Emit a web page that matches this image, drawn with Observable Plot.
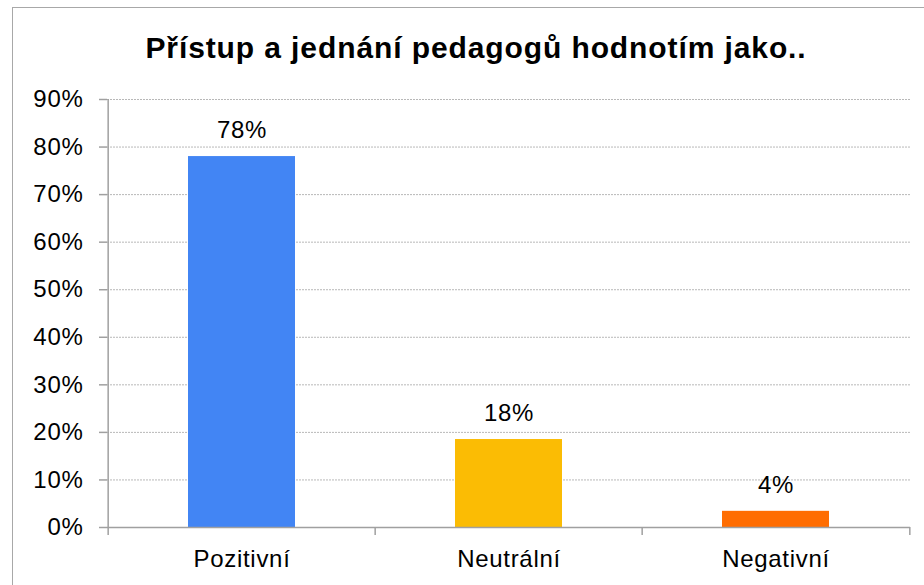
<!DOCTYPE html>
<html>
<head>
<meta charset="utf-8">
<script src="https://cdn.jsdelivr.net/npm/d3@7"></script>
<script src="https://cdn.jsdelivr.net/npm/@observablehq/plot@0.6"></script>
<style>
  html, body { margin: 0; padding: 0; background: #fff; }
  #wrap { position: relative; width: 924px; height: 585px; overflow: hidden; background: #fff; }
  #frame { position: absolute; left: 12px; top: 7px; width: 940px; height: 620px; border: 1.5px solid #a8a8a8; box-sizing: border-box; }
  #title { position: absolute; left: 0; width: 924px; top: 33px; text-align: center; font-family: "Liberation Sans", Arial, sans-serif; font-weight: bold; font-size: 30px; line-height: 29px; letter-spacing: 0.9px; color: #000; padding-left: 28px; box-sizing: border-box; white-space: nowrap; }
  #chart { position: absolute; left: 0; top: 0; }
</style>
</head>
<body>
<div id="wrap">
  <div id="frame"></div>
  <div id="title">Přístup a jednání pedagogů hodnotím jako..</div>
  <div id="chart"></div>
</div>
<script>
const categories = ["Pozitivní", "Neutrální", "Negativní"];
const values = [0.78, 0.185, 0.034];
const valueLabels = ["78%", "18%", "4%"];
const colors = ["#4285F4", "#FBBC04", "#FF6D01"];
const yTicks = [0, 0.1, 0.2, 0.3, 0.4, 0.5, 0.6, 0.7, 0.8, 0.9];

const data = categories.map((c, i) => ({cat: c, value: values[i], label: valueLabels[i]}));

const W = 924, H = 585;
const mL = 107, mR = 14, mT = 99, mB = 58;
const step = (W - mL - mR) / categories.length;
const plotH = H - mT - mB;
const tickLen = 0.9 * 8 / plotH;
const gray = "#a0a0a0";

const chart = Plot.plot({
  width: W,
  height: H,
  marginLeft: mL,
  marginRight: mR,
  marginTop: mT,
  marginBottom: mB,
  style: {fontFamily: "'Liberation Sans', Arial, sans-serif", fontSize: "24px", background: "transparent", color: "#000", overflow: "visible", letterSpacing: "0.7px"},
  x: {domain: categories, paddingInner: 0.6, paddingOuter: 0.3},
  y: {domain: [0, 0.9]},
  color: {domain: categories, range: colors},
  marks: [
    Plot.gridY(yTicks, {stroke: "#b8b8b8", strokeOpacity: 1, strokeDasharray: "2,1"}),
    Plot.barY(data, {x: "cat", y: "value", fill: "cat"}),
    Plot.ruleY([0], {stroke: gray, strokeWidth: 1.5}),
    Plot.ruleX([categories[0]], {x: d => d, dx: -step / 2, y1: -tickLen, y2: 0.9, stroke: gray, strokeWidth: 1.5}),
    Plot.ruleX(categories.slice(1), {x: d => d, dx: -step / 2, y1: -tickLen, y2: 0, stroke: gray, strokeWidth: 1.5}),
    Plot.ruleX([categories[categories.length - 1]], {x: d => d, dx: step / 2, y1: -tickLen, y2: 0, stroke: gray, strokeWidth: 1.5}),
    Plot.axisY(yTicks, {tickSize: 8, tickFormat: () => "", stroke: gray, strokeWidth: 1.5, label: null}),
    Plot.axisY(yTicks, {tickSize: 0, tickPadding: 24, tickFormat: d => Math.round(d * 100) + "%", fill: "#000", label: null}),
    Plot.axisX({tickSize: 0, tickPadding: 22, fill: "#000", label: null}),
    Plot.text(data, {x: "cat", y: "value", text: "label", dy: -26, fill: "#000", fontSize: 24})
  ]
});
document.getElementById("chart").appendChild(chart);
</script>
</body>
</html>
